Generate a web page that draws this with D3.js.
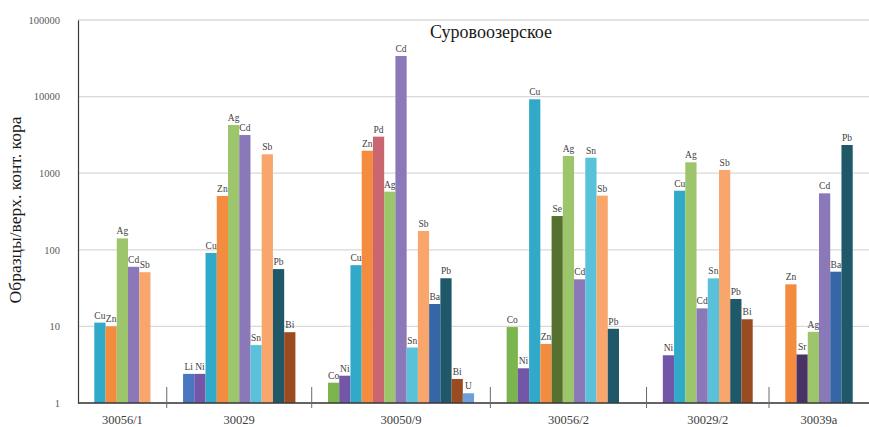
<!DOCTYPE html>
<html>
<head>
<meta charset="utf-8">
<script src="https://cdn.jsdelivr.net/npm/d3@7"></script>
<style>
  html, body { margin: 0; padding: 0; background: #ffffff; }
  svg { display: block; }
</style>
</head>
<body>
<svg id="chart" width="869" height="427"></svg>
<script>
// Суровоозерское: sample / upper continental crust ratios, log scale
const title = "Суровоозерское";
const yLabel = "Образцы/верх. конт. кора";
const samples = ["30056/1", "30029", "30050/9", "30056/2", "30029/2", "30039a"];

// elements and ratios per sample (null = empty slot)
const elements1 = ["Cu", "Zn", "Ag", "Cd", "Sb"];
const values1   = [11.2, 10, 141, 60, 51];

const elements2 = ["Li", "Ni", "Cu", "Zn", "Ag", "Cd", "Sn", "Sb", "Pb", "Bi"];
const values2   = [2.4, 2.4, 91, 504, 4260, 3150, 5.7, 1765, 56, 8.4];

const elements3 = ["Co", "Ni", "Cu", "Zn", "Pd", "Ag", "Cd", "Sn", "Sb", "Ba", "Pb", "Bi", "U"];
const values3   = [1.84, 2.27, 63, 1967, 3000, 574, 33900, 5.3, 176, 19.6, 42.5, 2.06, 1.34];

const elements4 = ["Co", "Ni", "Cu", "Zn", "Se", "Ag", "Cd", "Sn", "Sb", "Pb", null];
const values4   = [9.8, 2.84, 9220, 5.9, 276, 1677, 41.2, 1593, 509, 9.3, null];

const elements5 = ["Ni", "Cu", "Ag", "Cd", "Sn", "Sb", "Pb", "Bi"];
const values5   = [4.2, 591, 1388, 17.2, 42.4, 1101, 22.8, 12.4];

const elements6 = ["Zn", "Sr", "Ag", "Cd", "Ba", "Pb"];
const values6   = [35.4, 4.3, 8.5, 546, 51.8, 2334];

const yTicks = [1, 10, 100, 1000, 10000, 100000];

const groupElements = [elements1, elements2, elements3, elements4, elements5, elements6];
const groupValues = [values1, values2, values3, values4, values5, values6];

// colour per element
const elementColor = {
  Cu: "#31a9c9", Zn: "#f48c40", Ag: "#9cc56c", Cd: "#8b78b8", Sb: "#f9a66c",
  Li: "#4b76c0", Ni: "#7356a8", Sn: "#59c1da", Pb: "#1f5868", Bi: "#9a4b1f",
  Co: "#7bb54d", Pd: "#c9666f", Ba: "#3567a6", U: "#6e9fdc", Se: "#56702f",
  Sr: "#4a3265"
};

const serif = "'Liberation Serif', 'Times New Roman', 'DejaVu Serif', serif";

const svg = d3.select("#chart").attr("font-family", serif);
const plotLeft = 78, plotRight = 869, plotTop = 20, plotBottom = 403;
const gapUnits = 2.9;   // space around each sample group, in bar widths

// lay out slots: each group = its bars plus a gap split on both sides
const groups = [];
let cursor = 0;
samples.forEach((s, i) => {
  const n = groupElements[i].length;
  const start = cursor;
  const bars = groupElements[i].map((el, j) => ({
    sample: s, element: el, value: groupValues[i][j], slot: start + gapUnits / 2 + j
  }));
  cursor += n + gapUnits;
  groups.push({ sample: s, start: start, end: cursor, bars: bars });
});

const x = d3.scaleLinear().domain([0, cursor]).range([plotLeft, plotRight]);
const y = d3.scaleLog().domain([1, 100000]).range([plotBottom, plotTop]);
const bw = x(1) - x(0);

// horizontal gridlines
svg.append("g")
  .selectAll("line")
  .data(yTicks)
  .join("line")
  .attr("x1", plotLeft).attr("x2", plotRight)
  .attr("y1", d => y(d)).attr("y2", d => y(d))
  .attr("stroke", "#d9d9d9").attr("stroke-width", 1.3);

// y axis
const yAxis = d3.axisLeft(y).tickValues(yTicks).tickFormat(d3.format("d")).tickSize(0).tickPadding(18);
const gy = svg.append("g").attr("transform", `translate(${plotLeft},0)`).call(yAxis);
gy.attr("font-family", serif);
gy.select(".domain").attr("stroke", "#3a3a3a").attr("stroke-width", 1.2);
gy.selectAll("text")
  .attr("font-family", serif)
  .attr("font-size", 10.5)
  .attr("fill", "#595959");

// bars
const allBars = groups.flatMap(g => g.bars).filter(b => b.value != null);
svg.append("g")
  .selectAll("rect")
  .data(allBars)
  .join("rect")
  .attr("x", d => x(d.slot))
  .attr("y", d => y(d.value))
  .attr("width", bw)
  .attr("height", d => y(1) - y(d.value))
  .attr("fill", d => elementColor[d.element]);

// element labels above bars
svg.append("g")
  .selectAll("text")
  .data(allBars)
  .join("text")
  .attr("x", d => x(d.slot + 0.5))
  .attr("y", d => y(d.value) - 4)
  .attr("text-anchor", "middle")
  .attr("font-family", serif)
  .attr("font-size", 9.5)
  .attr("fill", "#404040")
  .text(d => d.element);

// x axis line
svg.append("line")
  .attr("x1", plotLeft).attr("x2", plotRight)
  .attr("y1", plotBottom).attr("y2", plotBottom)
  .attr("stroke", "#3a3a3a").attr("stroke-width", 1.3);

// group separators
svg.append("g")
  .selectAll("line")
  .data(groups.slice(0, -1))
  .join("line")
  .attr("x1", d => x(d.end)).attr("x2", d => x(d.end))
  .attr("y1", plotBottom - 16).attr("y2", plotBottom + 5)
  .attr("stroke", "#6a6a6a").attr("stroke-width", 1);

// sample labels
svg.append("g")
  .selectAll("text")
  .data(groups)
  .join("text")
  .attr("x", d => x((d.start + d.end) / 2))
  .attr("y", 424)
  .attr("text-anchor", "middle")
  .attr("font-family", serif)
  .attr("font-size", 12.5)
  .attr("fill", "#404040")
  .text(d => d.sample);

// title
svg.append("text")
  .attr("x", 491).attr("y", 38)
  .attr("text-anchor", "middle")
  .attr("font-family", serif)
  .attr("font-size", 18)
  .attr("fill", "#1a1a1a")
  .text(title);

// y axis title
svg.append("text")
  .attr("transform", "translate(21,210) rotate(-90)")
  .attr("text-anchor", "middle")
  .attr("font-family", serif)
  .attr("font-size", 17.5)
  .attr("fill", "#1a1a1a")
  .text(yLabel);
</script>
</body>
</html>
